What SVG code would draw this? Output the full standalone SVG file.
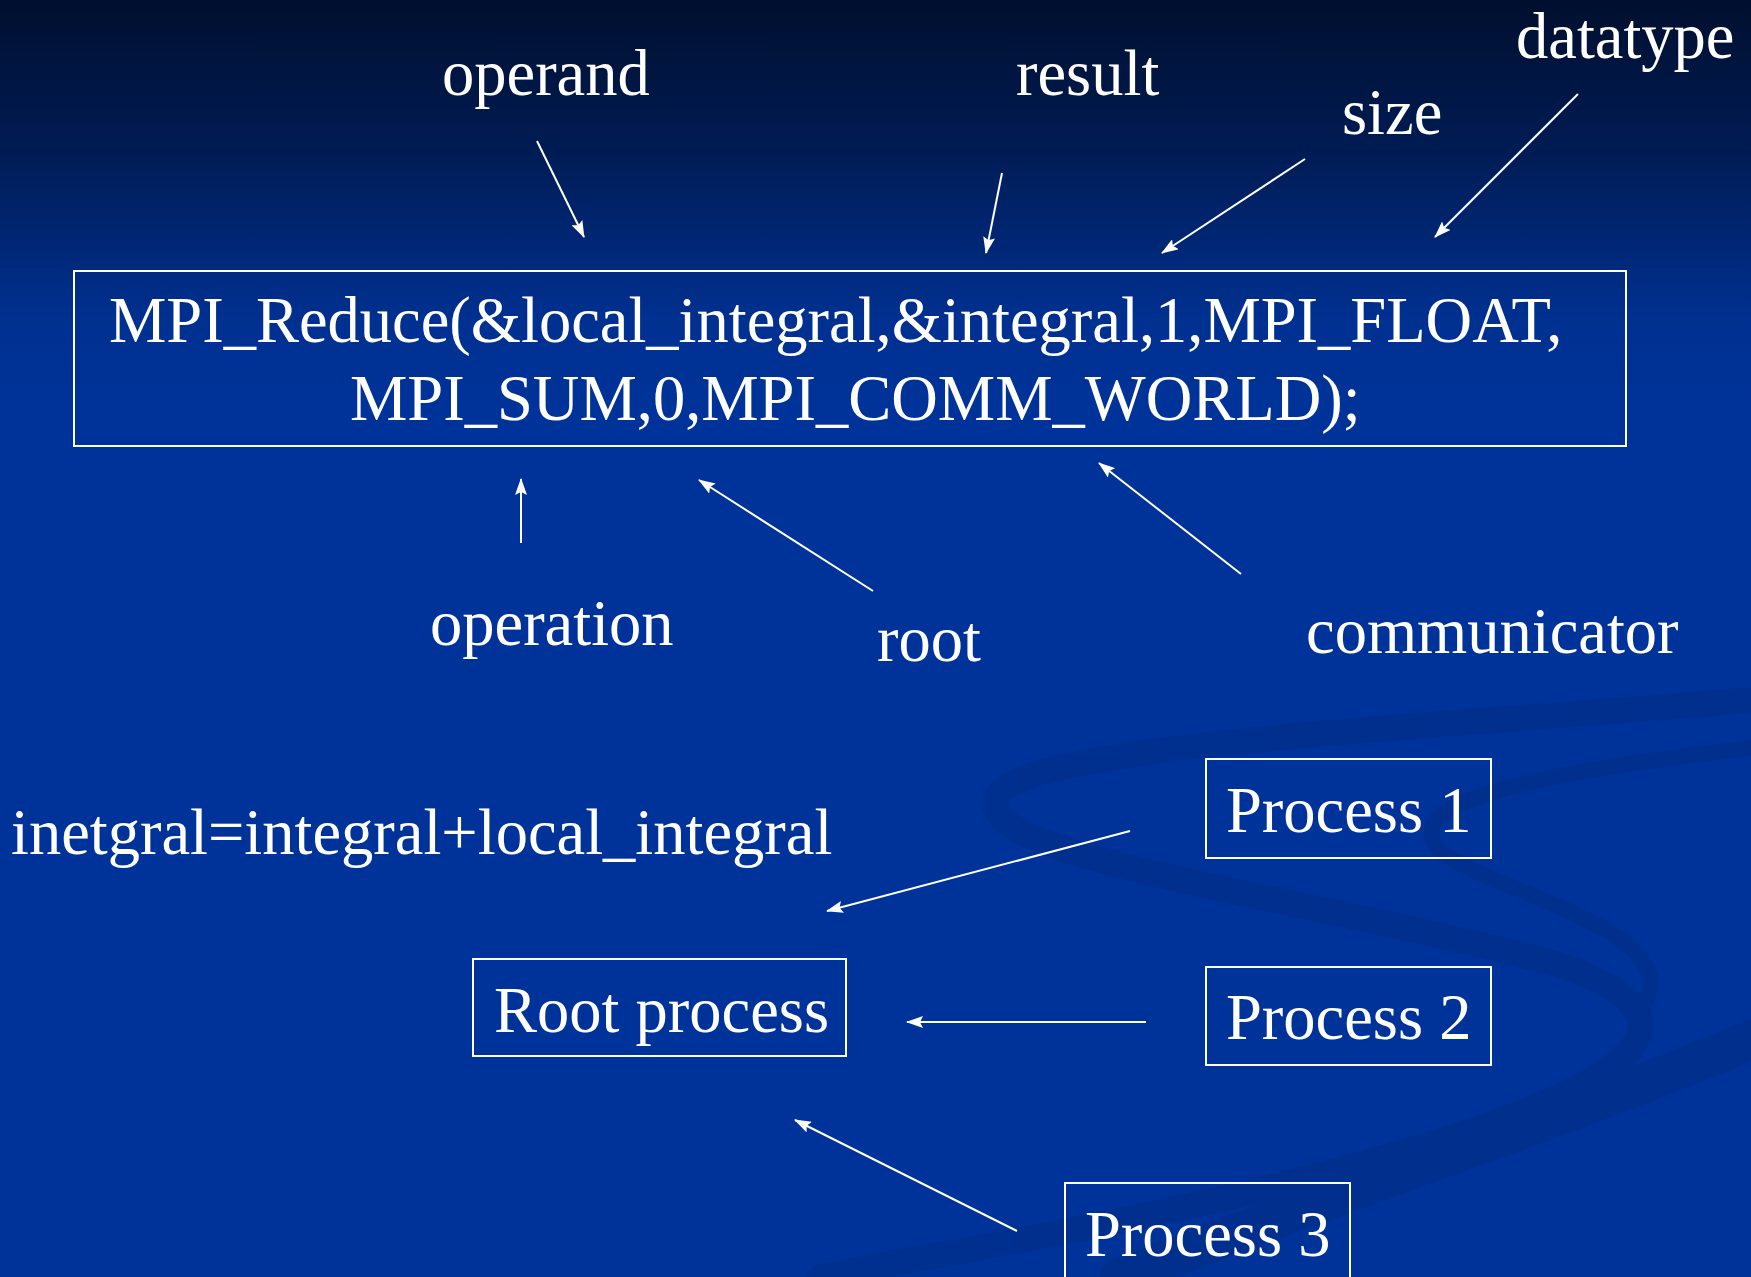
<svg xmlns="http://www.w3.org/2000/svg" width="1751" height="1277" viewBox="0 0 1751 1277">
<defs>
<linearGradient id="bg" x1="0" y1="0" x2="0" y2="1277" gradientUnits="userSpaceOnUse">
<stop offset="0" stop-color="#000f2e"/>
<stop offset="0.12" stop-color="#001c55"/>
<stop offset="0.25" stop-color="#003090"/>
<stop offset="0.32" stop-color="#003399"/>
<stop offset="1" stop-color="#003399"/>
</linearGradient>
<marker id="arr" viewBox="0 0 17 12" refX="16" refY="6" markerWidth="17" markerHeight="12" markerUnits="userSpaceOnUse" orient="auto">
<path d="M0,0 L17,6 L0,12 L3,6 Z" fill="#ffffff"/>
</marker>
</defs>
<style>
.t{font-family:"Liberation Serif","Times New Roman",serif;font-size:64.5px;fill:#ffffff}
.box{fill:none;stroke:#ffffff;stroke-width:2}
.c{stroke:#ffffff;stroke-width:2;fill:none;marker-end:url(#arr)}
.sw{fill:none;stroke:#002e88;stroke-linecap:round}
</style>
<rect x="0" y="0" width="1751" height="1277" fill="url(#bg)"/>
<g id="swirl" opacity="0.6">
<path class="sw" stroke-width="26" d="M1751,700 C1400,730 1010,745 995,800 C985,860 1300,895 1560,965 C1720,1020 1640,1090 1340,1170 C1130,1225 930,1255 820,1277"/>
<path class="sw" stroke-width="16" d="M1751,748 C1560,770 1390,800 1440,850 C1480,890 1700,930 1640,1010"/>
<path class="sw" stroke-width="40" d="M1751,1040 C1560,1120 1320,1200 1120,1277"/>
</g>
<g id="connectors">
<line class="c" x1="537" y1="141" x2="584" y2="237"/>
<line class="c" x1="1002" y1="173" x2="986" y2="253"/>
<line class="c" x1="1305" y1="159" x2="1162" y2="253"/>
<line class="c" x1="1578" y1="94" x2="1435" y2="237"/>
<line class="c" x1="521" y1="543" x2="521" y2="479"/>
<line class="c" x1="873" y1="591" x2="699" y2="480"/>
<line class="c" x1="1241" y1="574" x2="1099" y2="463"/>
<line class="c" x1="1130" y1="831" x2="827" y2="911"/>
<line class="c" x1="1146" y1="1022" x2="907" y2="1022"/>
<line class="c" x1="1017" y1="1231" x2="795" y2="1120"/>
</g>
<g id="call">
<rect class="box" x="74" y="271" width="1552" height="175"/>
<text class="t" x="109" y="342">MPI_Reduce(&amp;local_integral,&amp;integral,1,MPI_FLOAT,</text>
<text class="t" x="350" y="420">MPI_SUM,0,MPI_COMM_WORLD);</text>
</g>
<g id="label-operand"><text class="t" x="442" y="95">operand</text></g>
<g id="label-result"><text class="t" x="1016" y="95">result</text></g>
<g id="label-size"><text class="t" x="1342" y="134">size</text></g>
<g id="label-datatype"><text class="t" x="1516" y="58">datatype</text></g>
<g id="label-operation"><text class="t" x="430" y="645">operation</text></g>
<g id="label-root"><text class="t" x="877" y="661">root</text></g>
<g id="label-communicator"><text class="t" x="1306" y="653">communicator</text></g>
<g id="formula"><text class="t" x="11" y="854">inetgral=integral+local_integral</text></g>
<g id="root-process">
<rect class="box" x="473" y="959" width="373" height="97"/>
<text class="t" x="494" y="1032">Root process</text>
</g>
<g id="process-1">
<rect class="box" x="1206" y="759" width="285" height="99"/>
<text class="t" x="1226" y="832">Process 1</text>
</g>
<g id="process-2">
<rect class="box" x="1206" y="967" width="285" height="98"/>
<text class="t" x="1226" y="1039">Process 2</text>
</g>
<g id="process-3">
<rect class="box" x="1065" y="1183" width="285" height="110"/>
<text class="t" x="1085" y="1256">Process 3</text>
</g>
</svg>
